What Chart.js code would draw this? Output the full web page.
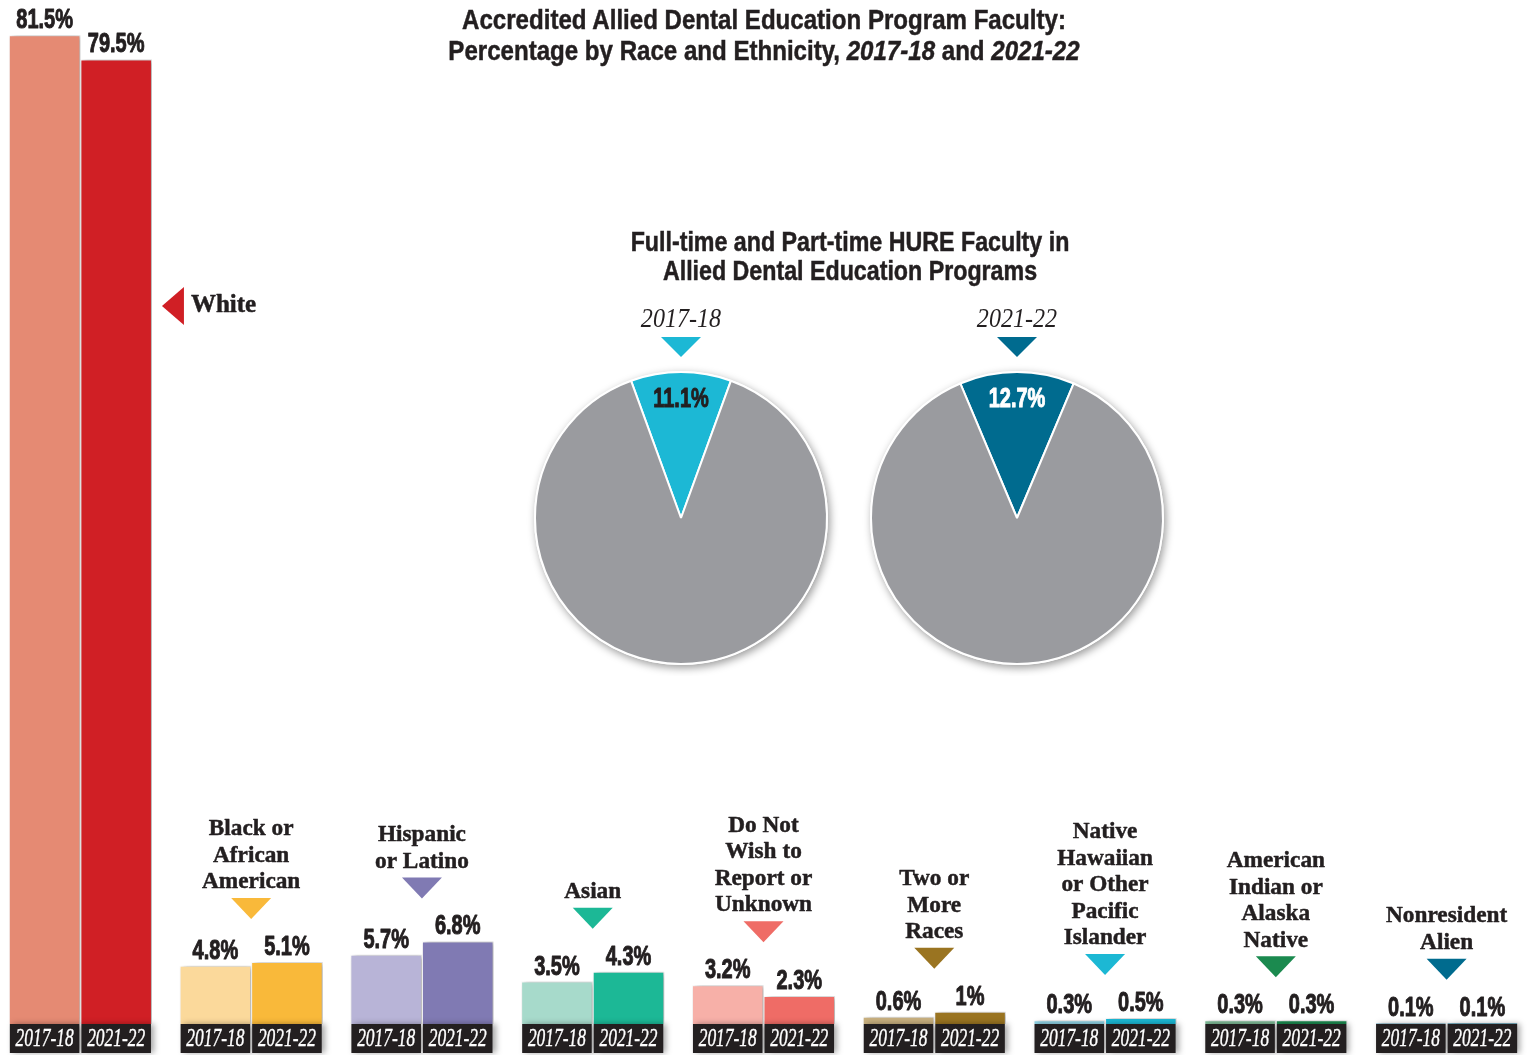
<!DOCTYPE html>
<html>
<head>
<meta charset="utf-8">
<script src="https://cdn.jsdelivr.net/npm/chart.js@4.4.0/dist/chart.umd.min.js"></script>
<style>
  html, body { margin: 0; padding: 0; background: #fff; overflow: hidden; }
  #page { position: relative; width: 1528px; height: 1055px; }
  #barChart { position: absolute; left: -5px; top: 0; }
  .pie { position: absolute; }
  .title {
    position: absolute; text-align: center; color: #231f20;
    font-family: "Liberation Sans", Arial, sans-serif; font-weight: bold;
    -webkit-text-stroke: 0.5px #231f20;
    transform: scaleX(0.86); transform-origin: center top; white-space: nowrap;
  }
  #mainTitle { left: 0; top: 4px; width: 1528px; font-size: 28px; line-height: 31px; }
  #pieTitle { left: 550px; top: 228px; width: 600px; font-size: 27px; line-height: 29px; }
</style>
</head>
<body>
<div id="page">
  <canvas id="barChart" width="1537" height="1055"></canvas>
  <canvas id="pie1" class="pie" width="340" height="380" style="left:511px;top:296px"></canvas>
  <canvas id="pie2" class="pie" width="340" height="380" style="left:847px;top:296px"></canvas>
  <div id="mainTitle" class="title">Accredited Allied Dental Education Program Faculty:<br>Percentage by Race and Ethnicity, <i>2017-18</i> and <i>2021-22</i></div>
  <div id="pieTitle" class="title">Full-time and Part-time HURE Faculty in<br>Allied Dental Education Programs</div>
</div>
<script>
// race / ethnicity groups, one entry per line of the label
const categories = [
  ['White'],
  ['Black or', 'African', 'American'],
  ['Hispanic', 'or Latino'],
  ['Asian'],
  ['Do Not', 'Wish to', 'Report or', 'Unknown'],
  ['Two or', 'More', 'Races'],
  ['Native', 'Hawaiian', 'or Other', 'Pacific', 'Islander'],
  ['American', 'Indian or', 'Alaska', 'Native'],
  ['Nonresident', 'Alien']
];
const years = ['2017-18', '2021-22'];
const pct2017 = [81.5, 4.8, 5.7, 3.5, 3.2, 0.6, 0.3, 0.3, 0.1];
const pct2021 = [79.5, 5.1, 6.8, 4.3, 2.3, 1, 0.5, 0.3, 0.1];
const lightColors = ['#e58a73', '#fbd99b', '#b8b4d7', '#a7dacb', '#f7b0a8', '#c8b07f', '#8fd3e5', '#7fbb97', '#5b9fbb'];
const darkColors = ['#d01f25', '#f9b93a', '#807ab3', '#1cb896', '#ef6c66', '#9a7421', '#1cb8d4', '#1b8a4f', '#006b8e'];

// HURE share of faculty, one pie per year
const hureYears = ['2017-18', '2021-22'];
const hurePct = [11.1, 12.7];
const hureColors = ['#1cb8d5', '#006b8f'];
const hureTextColors = ['#231f20', '#ffffff'];
const pieGray = '#9a9b9f';

const INK = '#231f20';
const SANS = '"Liberation Sans", Arial, sans-serif';
const SERIF = '"Liberation Serif", "DejaVu Serif", serif';
const NUM_FONT = 'bold 27px ' + SANS;
const NUM_SQUEEZE = 0.74;

function fmt(v) {
  return v + '%';
}

function triangleDown(ctx, cx, tipY, w, h, color) {
  ctx.fillStyle = color;
  ctx.beginPath();
  ctx.moveTo(cx - w / 2, tipY - h);
  ctx.lineTo(cx + w / 2, tipY - h);
  ctx.lineTo(cx, tipY);
  ctx.closePath();
  ctx.fill();
}

// squeezed text, to get the condensed look of the labels; heavy adds a thin outline
function condensedText(ctx, text, x, y, sx, heavy) {
  ctx.save();
  ctx.translate(x, y);
  ctx.scale(sx, 1);
  ctx.fillText(text, 0, 0);
  if (heavy) {
    ctx.strokeStyle = ctx.fillStyle;
    ctx.lineWidth = heavy;
    ctx.lineJoin = 'round';
    ctx.strokeText(text, 0, 0);
  }
  ctx.restore();
}

const barDecor = {
  id: 'barDecor',
  beforeDatasetsDraw(chart) {
    const ctx = chart.ctx;
    ctx.save();
    ctx.shadowColor = 'rgba(0,0,0,0.35)';
    ctx.shadowBlur = 6;
    ctx.shadowOffsetX = 3;
  },
  afterDatasetsDraw(chart) {
    const ctx = chart.ctx;
    const bottom = chart.chartArea.bottom;
    const metas = [chart.getDatasetMeta(0).data, chart.getDatasetMeta(1).data];

    // black year strips under every bar (still shadowed)
    metas.forEach(bars => {
      bars.forEach(el => {
        ctx.fillStyle = INK;
        ctx.fillRect(el.x - el.width / 2 + 1, bottom, el.width - 2, 29);
      });
    });
    ctx.restore();

    ctx.save();
    ctx.textAlign = 'center';

    // year text inside the strips
    ctx.fillStyle = '#ffffff';
    ctx.textBaseline = 'middle';
    ctx.font = 'italic 26px ' + SERIF;
    metas.forEach((bars, d) => {
      bars.forEach(el => condensedText(ctx, years[d], el.x, bottom + 15, 0.67, 0.4));
    });

    // value labels over the bars
    ctx.fillStyle = INK;
    ctx.textBaseline = 'alphabetic';
    ctx.font = NUM_FONT;
    const values = [pct2017, pct2021];
    metas.forEach((bars, d) => {
      bars.forEach((el, i) => condensedText(ctx, fmt(values[d][i]), el.x, el.y - 7, NUM_SQUEEZE, 1));
    });

    // group names with a pointer triangle
    ctx.font = 'bold 24px ' + SERIF;
    ctx.textBaseline = 'middle';
    categories.forEach((lines, i) => {
      const a = metas[0][i], b = metas[1][i];
      if (i === 0) {
        const tipX = b.x + b.width / 2 + 10;
        const cy = 306;
        ctx.fillStyle = darkColors[0];
        ctx.beginPath();
        ctx.moveTo(tipX, cy);
        ctx.lineTo(tipX + 22, cy - 19);
        ctx.lineTo(tipX + 22, cy + 19);
        ctx.closePath();
        ctx.fill();
        ctx.fillStyle = INK;
        ctx.textAlign = 'left';
        ctx.font = 'bold 25px ' + SERIF;
        condensedText(ctx, lines[0], tipX + 29, cy, 1, 0.5);
        ctx.textAlign = 'center';
        ctx.font = 'bold 24px ' + SERIF;
        return;
      }
      const cx = (a.x + b.x) / 2;
      const tip = Math.min(a.y, b.y) - 43;
      triangleDown(ctx, cx, tip, 40, 21, darkColors[i]);
      ctx.fillStyle = INK;
      const n = lines.length;
      lines.forEach((line, k) => {
        condensedText(ctx, line, cx, tip - 37 - (n - 1 - k) * 26.5, 0.97, 0.5);
      });
    });
    ctx.restore();
  }
};

new Chart(document.getElementById('barChart'), {
  type: 'bar',
  data: {
    labels: categories.map(c => c.join(' ')),
    datasets: [
      {
        label: years[0],
        data: pct2017,
        backgroundColor: lightColors,
        borderColor: '#ffffff',
        borderWidth: 1,
        categoryPercentage: 0.838,
        barPercentage: 1
      },
      {
        label: years[1],
        data: pct2021,
        backgroundColor: darkColors,
        borderColor: '#ffffff',
        borderWidth: 1,
        categoryPercentage: 0.838,
        barPercentage: 1
      }
    ]
  },
  options: {
    responsive: false,
    animation: false,
    layout: { padding: { top: 0, bottom: 31, left: 0, right: 0 } },
    scales: {
      x: { display: false },
      y: { display: false, min: 0, max: 84.4 }
    },
    plugins: {
      legend: { display: false },
      tooltip: { enabled: false }
    }
  },
  plugins: [barDecor]
});

const pieDecor = {
  id: 'pieDecor',
  beforeDatasetsDraw(chart) {
    const arc = chart.getDatasetMeta(0).data[0];
    const ctx = chart.ctx;
    ctx.save();
    ctx.shadowColor = 'rgba(0,0,0,0.4)';
    ctx.shadowBlur = 8;
    ctx.shadowOffsetX = 2;
    ctx.shadowOffsetY = 3;
    ctx.fillStyle = '#ffffff';
    ctx.beginPath();
    ctx.arc(arc.x, arc.y, arc.outerRadius + 1, 0, Math.PI * 2);
    ctx.fill();
    ctx.restore();
  },
  afterDatasetsDraw(chart, args, opts) {
    const arc = chart.getDatasetMeta(0).data[0];
    const ctx = chart.ctx;
    ctx.save();
    ctx.textAlign = 'center';
    ctx.textBaseline = 'middle';

    // percentage inside the HURE slice
    const mid = (arc.startAngle + arc.endAngle) / 2;
    const r = arc.outerRadius * 0.81;
    ctx.fillStyle = opts.textColor;
    ctx.font = NUM_FONT;
    condensedText(ctx, opts.label, arc.x + Math.cos(mid) * r, arc.y + Math.sin(mid) * r, NUM_SQUEEZE, 1);

    // year caption and pointer above the pie
    ctx.fillStyle = INK;
    ctx.font = 'italic 28px ' + SERIF;
    condensedText(ctx, opts.year, arc.x, arc.y - 198, 0.86);
    triangleDown(ctx, arc.x, arc.y - 161, 40, 20, opts.color);
    ctx.restore();
  }
};

hurePct.forEach((v, i) => {
  new Chart(document.getElementById('pie' + (i + 1)), {
    type: 'pie',
    data: {
      labels: ['HURE', 'Other'],
      datasets: [{
        data: [v, 100 - v],
        backgroundColor: [hureColors[i], pieGray],
        borderColor: '#ffffff',
        borderWidth: 2
      }]
    },
    options: {
      responsive: false,
      animation: false,
      rotation: -v * 3.6 / 2,
      layout: { padding: { top: 75, bottom: 11, left: 22, right: 22 } },
      plugins: {
        legend: { display: false },
        tooltip: { enabled: false },
        pieDecor: {
          label: fmt(v),
          year: hureYears[i],
          color: hureColors[i],
          textColor: hureTextColors[i]
        }
      }
    },
    plugins: [pieDecor]
  });
});
</script>
</body>
</html>
